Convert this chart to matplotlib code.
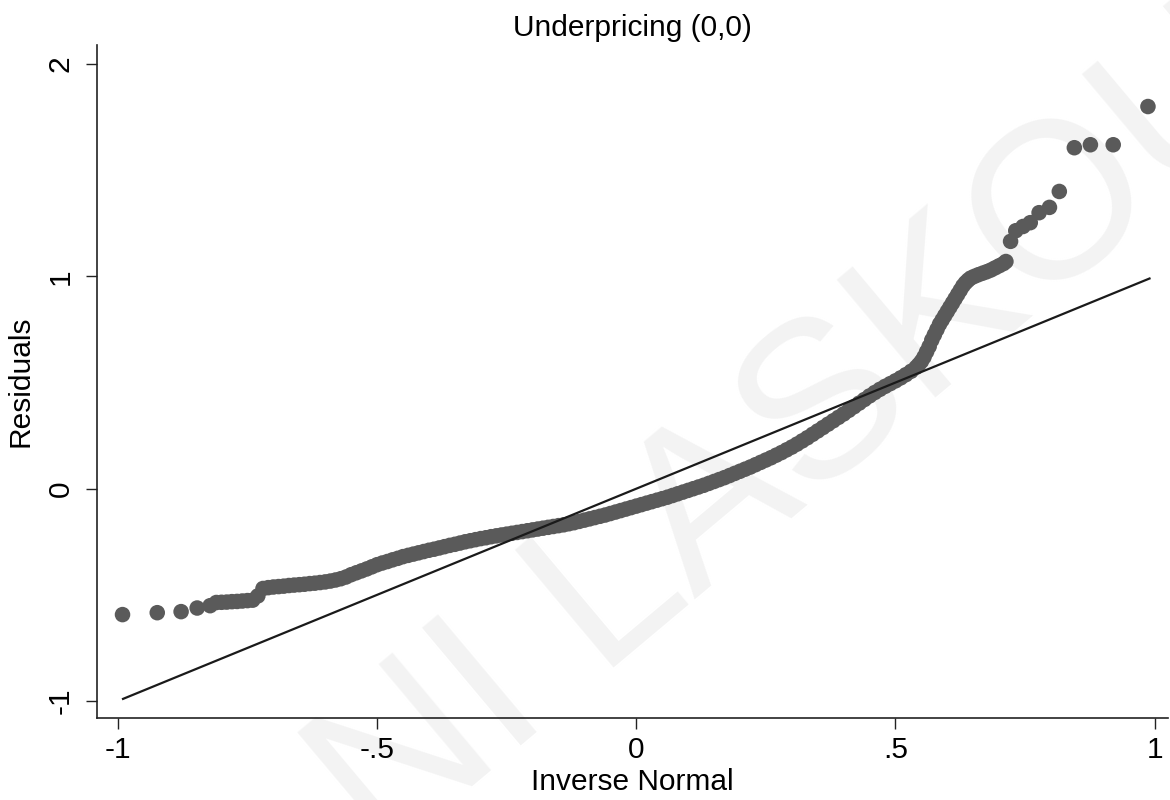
import numpy as np
import matplotlib.pyplot as plt

plt.rcParams['font.family'] = ['Liberation Sans', 'DejaVu Sans']

# Inverse normal (x) and residuals (y)
inv_normal = [
    -0.991, -0.924, -0.878, -0.847, -0.822,
    -0.81, -0.80, -0.79, -0.78, -0.77, -0.76, -0.75, -0.74, -0.73, -0.72,
    -0.71, -0.70, -0.69, -0.68, -0.67, -0.66, -0.65, -0.64, -0.63, -0.62,
    -0.61, -0.60, -0.59, -0.58, -0.57, -0.56, -0.55, -0.54, -0.53, -0.52,
    -0.51, -0.50, -0.49, -0.48, -0.47, -0.46, -0.45, -0.44, -0.43, -0.42,
    -0.41, -0.40, -0.39, -0.38, -0.37, -0.36, -0.35, -0.34, -0.33, -0.32,
    -0.31, -0.30, -0.29, -0.28, -0.27, -0.26, -0.25, -0.24, -0.23, -0.22,
    -0.21, -0.20, -0.19, -0.18, -0.17, -0.16, -0.15, -0.14, -0.13, -0.12,
    -0.11, -0.10, -0.09, -0.08, -0.07, -0.06, -0.05, -0.04, -0.03, -0.02,
    -0.01, 0.00, 0.01, 0.02, 0.03, 0.04, 0.05, 0.06, 0.07, 0.08,
    0.09, 0.10, 0.11, 0.12, 0.13, 0.14, 0.15, 0.16, 0.17, 0.18,
    0.19, 0.20, 0.21, 0.22, 0.23, 0.24, 0.25, 0.26, 0.27, 0.28,
    0.29, 0.30, 0.31, 0.32, 0.33, 0.34, 0.35, 0.36, 0.37, 0.38,
    0.39, 0.40, 0.41, 0.42, 0.43, 0.44, 0.45, 0.46, 0.47, 0.48,
    0.49, 0.50, 0.51, 0.52, 0.53, 0.54,
    0.545, 0.55, 0.555, 0.56, 0.565, 0.57, 0.575, 0.58, 0.585, 0.59,
    0.595, 0.60, 0.605, 0.61, 0.615, 0.62, 0.625, 0.63, 0.635, 0.64,
    0.645, 0.652, 0.66, 0.668, 0.676, 0.684, 0.692, 0.70, 0.708, 0.713,
    0.722, 0.732, 0.746, 0.760, 0.777, 0.797, 0.816, 0.845, 0.876, 0.920, 0.987,
]
residuals = [
    -0.593, -0.584, -0.579, -0.562, -0.551,
    -0.536, -0.535, -0.534, -0.532, -0.531, -0.529, -0.527, -0.525, -0.505, -0.470,
    -0.466, -0.463, -0.461, -0.459, -0.456, -0.454, -0.452, -0.450, -0.447, -0.445,
    -0.442, -0.439, -0.435, -0.430, -0.424, -0.416, -0.405, -0.396, -0.387, -0.378,
    -0.368, -0.358, -0.350, -0.343, -0.335, -0.328, -0.320, -0.314, -0.308, -0.302,
    -0.296, -0.290, -0.285, -0.279, -0.273, -0.267, -0.262, -0.256, -0.250, -0.245,
    -0.240, -0.235, -0.231, -0.226, -0.222, -0.218, -0.214, -0.210, -0.206, -0.202,
    -0.198, -0.194, -0.190, -0.186, -0.182, -0.178, -0.174, -0.170, -0.165, -0.160,
    -0.154, -0.148, -0.142, -0.136, -0.130, -0.124, -0.117, -0.110, -0.103, -0.096,
    -0.089, -0.082, -0.075, -0.068, -0.061, -0.054, -0.047, -0.040, -0.032, -0.024,
    -0.016, -0.008, 0.000, 0.008, 0.016, 0.025, 0.034, 0.043, 0.052, 0.062,
    0.072, 0.082, 0.092, 0.102, 0.113, 0.124, 0.135, 0.146, 0.158, 0.170,
    0.183, 0.196, 0.210, 0.225, 0.240, 0.256, 0.272, 0.288, 0.304, 0.320,
    0.336, 0.352, 0.369, 0.386, 0.403, 0.420, 0.437, 0.453, 0.468, 0.482,
    0.495, 0.508, 0.522, 0.537, 0.553, 0.572,
    0.585, 0.600, 0.620, 0.645, 0.670, 0.700, 0.725, 0.750, 0.775, 0.795,
    0.815, 0.835, 0.855, 0.875, 0.895, 0.915, 0.935, 0.955, 0.970, 0.982,
    0.992, 1.000, 1.008, 1.015, 1.022, 1.030, 1.040, 1.050, 1.060, 1.070,
    1.165, 1.215, 1.235, 1.253, 1.300, 1.325, 1.400, 1.606, 1.620, 1.620, 1.800,
]

# Reference line (normal quantiles)
ref_x = [-0.99, 0.99]
ref_y = [-0.99, 0.99]

xticks = [-1, -0.5, 0, 0.5, 1]
xtick_labels = ['-1', '-.5', '0', '.5', '1']
yticks = [-1, 0, 1, 2]
ytick_labels = ['-1', '0', '1', '2']

fig = plt.figure(figsize=(11.7, 8), dpi=100)
ax = fig.add_axes([0.083, 0.1025, 0.915, 0.8413])

# faint watermark behind everything
ax.text(0.684, 0.455, 'NI LASKOU', transform=fig.transFigure,
        fontsize=160, color='#f3f3f3', rotation=40, rotation_mode='anchor',
        ha='center', va='center', zorder=0)

ax.scatter(inv_normal, residuals, s=125, color='#5a5a5a', edgecolors='none', zorder=2)
ax.plot(ref_x, ref_y, color='#1a1a1a', lw=1.6, zorder=3)

ax.set_xlim(-1.04, 1.025)
ax.set_ylim(-1.08, 2.09)

for side in ['top', 'right']:
    ax.spines[side].set_visible(False)
for side in ['left', 'bottom']:
    ax.spines[side].set_color('#222222')
    ax.spines[side].set_linewidth(1.2)

ax.set_xticks(xticks)
ax.set_xticklabels(xtick_labels)
ax.set_yticks(yticks)
ax.set_yticklabels(ytick_labels, rotation=90, va='center')
ax.tick_params(axis='both', length=8, width=1.0, color='#222222', labelsize=21.5)
ax.tick_params(axis='x', pad=5)
ax.tick_params(axis='y', pad=8)

ax.set_xlabel('Inverse Normal', fontsize=21.5, labelpad=2.5)
ax.set_ylabel('Residuals', fontsize=21.5, labelpad=9)
ax.set_title('Underpricing (0,0)', fontsize=21.5, pad=6.5)

fig.savefig('out.png', dpi=100)
